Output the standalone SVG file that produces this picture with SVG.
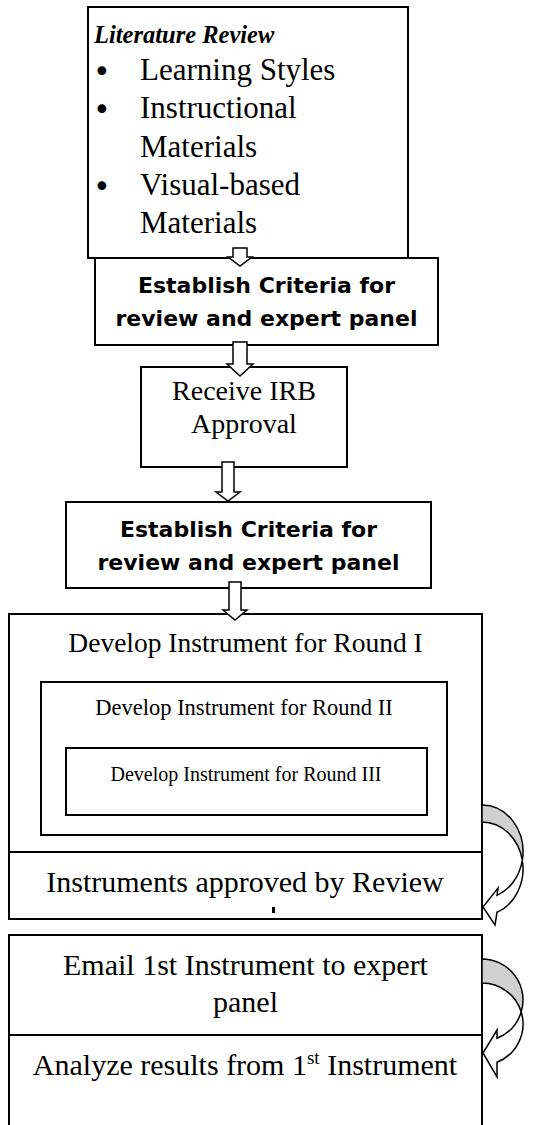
<svg xmlns="http://www.w3.org/2000/svg" width="557" height="1125" viewBox="0 0 557 1125">
<style>
.box{fill:#fff;stroke:#000;stroke-width:2}
.ln{stroke:#000;stroke-width:2;fill:none}
.ser{font-family:"Liberation Serif","Times New Roman",serif;fill:#000}
.sans{font-family:"DejaVu Sans","Liberation Sans",sans-serif;font-weight:bold;fill:#000}
.blk{fill:#fff;stroke:#000;stroke-width:1.5}
.back{fill:#d0d0d0;stroke:#000;stroke-width:1.5}
.front{fill:#fff;stroke:#000;stroke-width:1.5}
.bul{font-family:"DejaVu Sans","Liberation Sans",sans-serif;font-size:30px;fill:#000}
</style>
<rect width="557" height="1125" fill="#fff"/>
<g id="literature-review">
<rect class="box" x="88" y="7" width="320" height="251"/>
<text class="ser" x="94" y="43" font-size="24.5" font-weight="bold" font-style="italic">Literature Review</text>
<text class="bul" x="93" y="82">•</text>
<text class="bul" x="93" y="120">•</text>
<text class="bul" x="93" y="197">•</text>
<g class="ser" font-size="31">
<text x="140" y="80">Learning Styles</text>
<text x="140" y="118">Instructional</text>
<text x="140" y="157">Materials</text>
<text x="140" y="195">Visual-based</text>
<text x="140" y="233">Materials</text>
</g>
</g>
<g id="criteria-1">
<rect class="box" x="95" y="258" width="343" height="87"/>
<text class="sans" font-size="22" text-anchor="middle"><tspan x="266.5" y="293">Establish Criteria for</tspan><tspan x="266.5" y="326">review and expert panel</tspan></text>
</g>
<g id="irb">
<rect class="box" x="141" y="367" width="206" height="100"/>
<text class="ser" font-size="28" text-anchor="middle"><tspan x="244" y="400">Receive IRB</tspan><tspan x="244" y="433">Approval</tspan></text>
</g>
<g id="criteria-2">
<rect class="box" x="66" y="502" width="365" height="86"/>
<text class="sans" font-size="22" text-anchor="middle"><tspan x="248.5" y="537">Establish Criteria for</tspan><tspan x="248.5" y="570">review and expert panel</tspan></text>
</g>
<g id="develop-instruments">
<rect class="box" x="9" y="614" width="473" height="305"/>
<text class="ser" x="245.5" y="652" font-size="27.5" text-anchor="middle">Develop Instrument for Round I</text>
<rect class="box" x="41" y="682" width="406" height="153"/>
<text class="ser" x="244" y="715" font-size="22.5" text-anchor="middle">Develop Instrument for Round II</text>
<rect class="box" x="66" y="748" width="361" height="67"/>
<text class="ser" x="246" y="781" font-size="20" text-anchor="middle">Develop Instrument for Round III</text>
<line class="ln" x1="9" y1="852" x2="482" y2="852"/>
<text class="ser" x="245" y="892" font-size="30" text-anchor="middle">Instruments approved by Review</text>
<rect x="272" y="907" width="3" height="6" fill="#000"/>
</g>
<g id="email-analyze">
<rect class="box" x="9" y="935" width="473" height="200"/>
<line class="ln" x1="9" y1="1035" x2="482" y2="1035"/>
<text class="ser" font-size="30" text-anchor="middle"><tspan x="245.5" y="975">Email 1st Instrument to expert</tspan><tspan x="245.5" y="1012">panel</tspan></text>
<text class="ser" x="245" y="1075" font-size="30" text-anchor="middle">Analyze results from 1<tspan font-size="19" dy="-11">st</tspan><tspan dy="11"> Instrument</tspan></text>
</g>
<g id="connectors">
<path class="blk" d="M233,248 H247 V257 H252 L240,266 L228,257 H233 Z"/>
<path class="blk" d="M233,342 H247 V364 H253 L240,376 L227,364 H233 Z"/>
<path class="blk" d="M222,462 H234 V492 H240 L228,501 L216,492 H222 Z"/>
<path class="blk" d="M229,582 H241 V610 H247 L235,620 L223,610 H229 Z"/>
<path class="back" d="M482,805 A41,46.75 0 0 1 522.3,860.25 A41,46.75 0 0 0 482,822 Z"/>
<path class="front" d="M522.3,860.25 A41,46.75 0 0 1 497,912.3 L495,925 L483,907 L498,888 L497,895.3 A41,46.75 0 0 0 522.3,860.25 Z"/>
<path class="back" d="M482,959 A41,41 0 0 1 521.2,1012 A41,41 0 0 0 482,983 Z"/>
<path class="front" d="M521.2,1012 A41,41 0 0 1 497,1062.2 L497,1077 L483,1053 L497,1030 L497,1038.2 A41,41 0 0 0 521.2,1012 Z"/>
</g>
</svg>
